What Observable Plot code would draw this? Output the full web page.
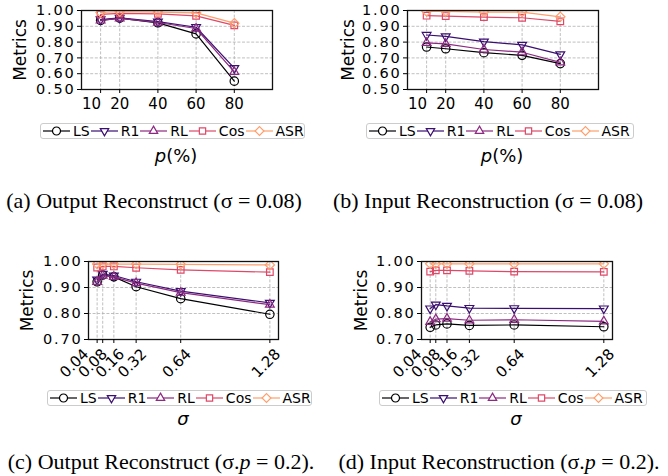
<!DOCTYPE html>
<html><head><meta charset="utf-8">
<script src="https://cdn.jsdelivr.net/npm/d3@7"></script>
<script src="https://cdn.jsdelivr.net/npm/@observablehq/plot@0.6"></script>
<style>
body{margin:0;background:#fff;}
#fig{position:relative;width:668px;height:476px;overflow:hidden;font-family:"DejaVu Sans";color:#000;}
.panel{position:absolute;}
.legend{position:absolute;box-sizing:border-box;border:1px solid #cccccc;border-radius:3px;height:16px;display:flex;align-items:center;background:#fff;font-size:14px;white-space:nowrap;padding-left:2px;line-height:14px;}
.legend .item{display:flex;align-items:center;}
.legend .item span{margin-left:3px;margin-right:1px;}
.xl{position:absolute;transform:translate(-50%,-50%);font-size:18px;white-space:nowrap;}
.cap{position:absolute;transform:translate(-50%,-50%);font-family:"Liberation Serif";font-size:22px;white-space:nowrap;}
</style></head><body><div id="fig"></div>
<script>
// ---- data ----
const series = ["LS","R1","RL","Cos","ASR"];
const colors = ["#000004","#3b0f70","#8c2981","#de4968","#fe9f6d"];
const symbols = ["circle","triangle2","triangle2","square2","diamond2"];
const rotations = [0,180,0,0,0];

const pValues = [10,20,40,60,80];
const pTickLabels = ["10","20","40","60","80"];
const sigmaValues = [0.04,0.08,0.16,0.32,0.64,1.28];
const sigmaTickLabels = ["0.04","0.08","0.16","0.32","0.64","1.28"];
const yTicksTop = [0.5,0.6,0.7,0.8,0.9,1.0];
const yTicksBottom = [0.7,0.8,0.9,1.0];

// (a) Output reconstruct, sigma = 0.08
const aLS  = [0.937,0.952,0.922,0.852,0.553];
const aR1  = [0.943,0.954,0.929,0.894,0.635];
const aRL  = [0.937,0.950,0.924,0.886,0.612];
const aCos = [0.975,0.982,0.979,0.966,0.906];
const aASR = [0.988,0.992,0.990,0.985,0.920];
// (b) Input reconstruction, sigma = 0.08
const bLS  = [0.769,0.758,0.733,0.716,0.664];
const bR1  = [0.845,0.836,0.803,0.782,0.722];
const bRL  = [0.795,0.789,0.753,0.736,0.672];
const bCos = [0.967,0.965,0.958,0.954,0.931];
const bASR = [0.994,0.994,0.990,0.990,0.960];
// (c) Output reconstruct, p = 0.2
const cLS  = [0.922,0.948,0.941,0.903,0.857,0.797];
const cR1  = [0.930,0.952,0.946,0.922,0.886,0.841];
const cRL  = [0.922,0.946,0.941,0.917,0.880,0.834];
const cCos = [0.977,0.981,0.981,0.976,0.968,0.959];
const cASR = [0.990,0.990,0.990,0.990,0.989,0.987];
// (d) Input reconstruction, p = 0.2
const dLS  = [0.747,0.756,0.760,0.754,0.756,0.749];
const dR1  = [0.819,0.834,0.829,0.821,0.820,0.819];
const dRL  = [0.768,0.778,0.780,0.774,0.776,0.770];
const dCos = [0.961,0.966,0.966,0.964,0.961,0.960];
const dASR = [0.991,0.991,0.991,0.991,0.991,0.991];

const captions = [
  "(a) Output Reconstruct (σ = 0.08)",
  "(b) Input Reconstruction (σ = 0.08)",
  "(c) Output Reconstruct (σ.<i>p</i> = 0.2).",
  "(d) Input Reconstruction (σ.<i>p</i> = 0.2)."
];

// ---- drawing ----
const fig = document.getElementById("fig");
const FONT = "DejaVu Sans";

function seriesMarks(xs, ys) {
  const marks = [];
  ys.forEach((vals, k) => {
    const rows = xs.map((x, i) => ({x, y: vals[i]}));
    marks.push(Plot.line(rows, {x: "x", y: "y", stroke: colors[k], strokeWidth: 1.2, clip: true}));
    marks.push(Plot.dot(rows, {x: "x", y: "y", stroke: colors[k], fill: "none", symbol: symbols[k],
      rotate: rotations[k], r: 4.2, strokeWidth: 1.2, clip: true}));
  });
  return marks;
}

function makePanel(o) {
  const grid = {stroke: "#b0b0b0", strokeOpacity: 1, strokeWidth: 0.8, strokeDasharray: "3,1.6"};
  const marks = [
    Plot.gridX(o.xTicks, grid),
    Plot.gridY(o.yTicks, grid),
    ...seriesMarks(o.xTicks, o.ys),
    Plot.frame({stroke: "#111", strokeWidth: 1.3}),
    Plot.axisY(o.yTicks, {tickSize: 4, tickPadding: 2, fontSize: 14.5, tickFormat: d => d.toFixed(2), label: null}),
    ...o.xAxes,
    Plot.text(["Metrics"], {text: d => d, frameAnchor: "left", textAnchor: "middle", dx: -o.labOff, rotate: -90, fontSize: 17})
  ];
  const svg = Plot.plot({
    width: 334, height: o.height,
    marginLeft: o.ml, marginRight: o.mr, marginTop: o.mt, marginBottom: o.mb,
    style: {fontFamily: FONT, fontSize: "15px", background: "transparent", overflow: "visible"},
    x: {domain: o.xDomain, label: null},
    y: {domain: o.yDomain, label: null},
    marks
  });
  svg.querySelectorAll('[aria-label="y-axis tick label"] text').forEach(t => t.style.letterSpacing = "1.8px");
  const div = document.createElement("div");
  div.className = "panel";
  div.style.left = o.left + "px";
  div.style.top = o.top + "px";
  div.appendChild(svg);
  fig.appendChild(div);
}

function legend(left, top, width) {
  const L = document.createElement("div");
  L.className = "legend";
  L.style.left = left + "px"; L.style.top = top + "px"; L.style.width = width + "px";
  const symMap = {circle: d3.symbolCircle, triangle2: d3.symbolTriangle2, square2: d3.symbolSquare2, diamond2: d3.symbolDiamond2};
  series.forEach((name, k) => {
    const it = document.createElement("div");
    it.className = "item";
    const s = d3.create("svg").attr("width", 27).attr("height", 14);
    s.append("line").attr("x1", 0).attr("x2", 27).attr("y1", 7).attr("y2", 7)
      .attr("stroke", colors[k]).attr("stroke-width", 1.2);
    s.append("path").attr("d", d3.symbol(symMap[symbols[k]], Math.PI * 16)())
      .attr("transform", `translate(13.5,7) rotate(${rotations[k]})`)
      .attr("fill", "#fff").attr("stroke", colors[k]).attr("stroke-width", 1.2);
    it.appendChild(s.node());
    const sp = document.createElement("span");
    sp.textContent = name;
    it.appendChild(sp);
    L.appendChild(it);
  });
  fig.appendChild(L);
}

function text(cls, html, x, y) {
  const d = document.createElement("div");
  d.className = cls; d.innerHTML = html;
  d.style.left = x + "px"; d.style.top = y + "px";
  fig.appendChild(d);
}

const pFmt = d => pTickLabels[pValues.indexOf(d)];
const sFmt = d => sigmaTickLabels[sigmaValues.indexOf(d)];
function pAxes() {
  return [
    Plot.axisX(pValues, {tickSize: 4, tickPadding: 5, fontSize: 15, tickFormat: d => d === pValues[0] ? "" : pFmt(d), label: null}),
    Plot.axisX([pValues[0]], {tickSize: 0, tickPadding: 9, dx: -9, fontSize: 15, tickFormat: pFmt, label: null})
  ];
}
function sAxes() {
  const shift = v => v === sigmaValues[0] ? -11 : v === sigmaValues[1] ? 2 : 8;
  return [
    Plot.axisX(sigmaValues, {tickSize: 4, text: null, label: null}),
    ...sigmaValues.map(v => Plot.axisX([v], {tickSize: 0, tickPadding: 12, tickRotate: -45, dx: shift(v), fontSize: 15, tickFormat: sFmt, label: null}))
  ];
}

const topYs = [[aLS,aR1,aRL,aCos,aASR],[bLS,bR1,bRL,bCos,bASR]];
const botYs = [[cLS,cR1,cRL,cCos,cASR],[dLS,dR1,dRL,dCos,dASR]];

makePanel({left: 0, top: 0, height: 120, ml: 81, mr: 62, mt: 10, mb: 31, labOff: 61,
  xDomain: [0, 100], yDomain: [0.5, 1.0], xTicks: pValues, yTicks: yTicksTop, ys: topYs[0], xAxes: pAxes()});
makePanel({left: 334, top: 0, height: 120, ml: 73, mr: 70, mt: 10, mb: 31, labOff: 59,
  xDomain: [0, 100], yDomain: [0.5, 1.0], xTicks: pValues, yTicks: yTicksTop, ys: topYs[1], xAxes: pAxes()});
makePanel({left: 0, top: 250, height: 130, ml: 88, mr: 56, mt: 11, mb: 41, labOff: 61,
  xDomain: [-0.022, 1.342], yDomain: [0.7, 1.0], xTicks: sigmaValues, yTicks: yTicksBottom, ys: botYs[0], xAxes: sAxes()});
makePanel({left: 334, top: 250, height: 130, ml: 87, mr: 56, mt: 11, mb: 41, labOff: 60,
  xDomain: [-0.022, 1.342], yDomain: [0.7, 1.0], xTicks: sigmaValues, yTicks: yTicksBottom, ys: botYs[1], xAxes: sAxes()});

legend(40, 123, 265);
legend(366, 123, 268);
legend(47, 390, 265);
legend(379, 390, 268);

text("xl", "<i>p</i>(%)", 176, 155);
text("xl", "<i>p</i>(%)", 502, 155);
text("xl", "<i>σ</i>", 183, 418);
text("xl", "<i>σ</i>", 516, 418);

text("cap", captions[0], 154, 201);
text("cap", captions[1], 488, 201);
text("cap", captions[2], 161, 462);
text("cap", captions[3], 499, 462);
</script></body></html>
